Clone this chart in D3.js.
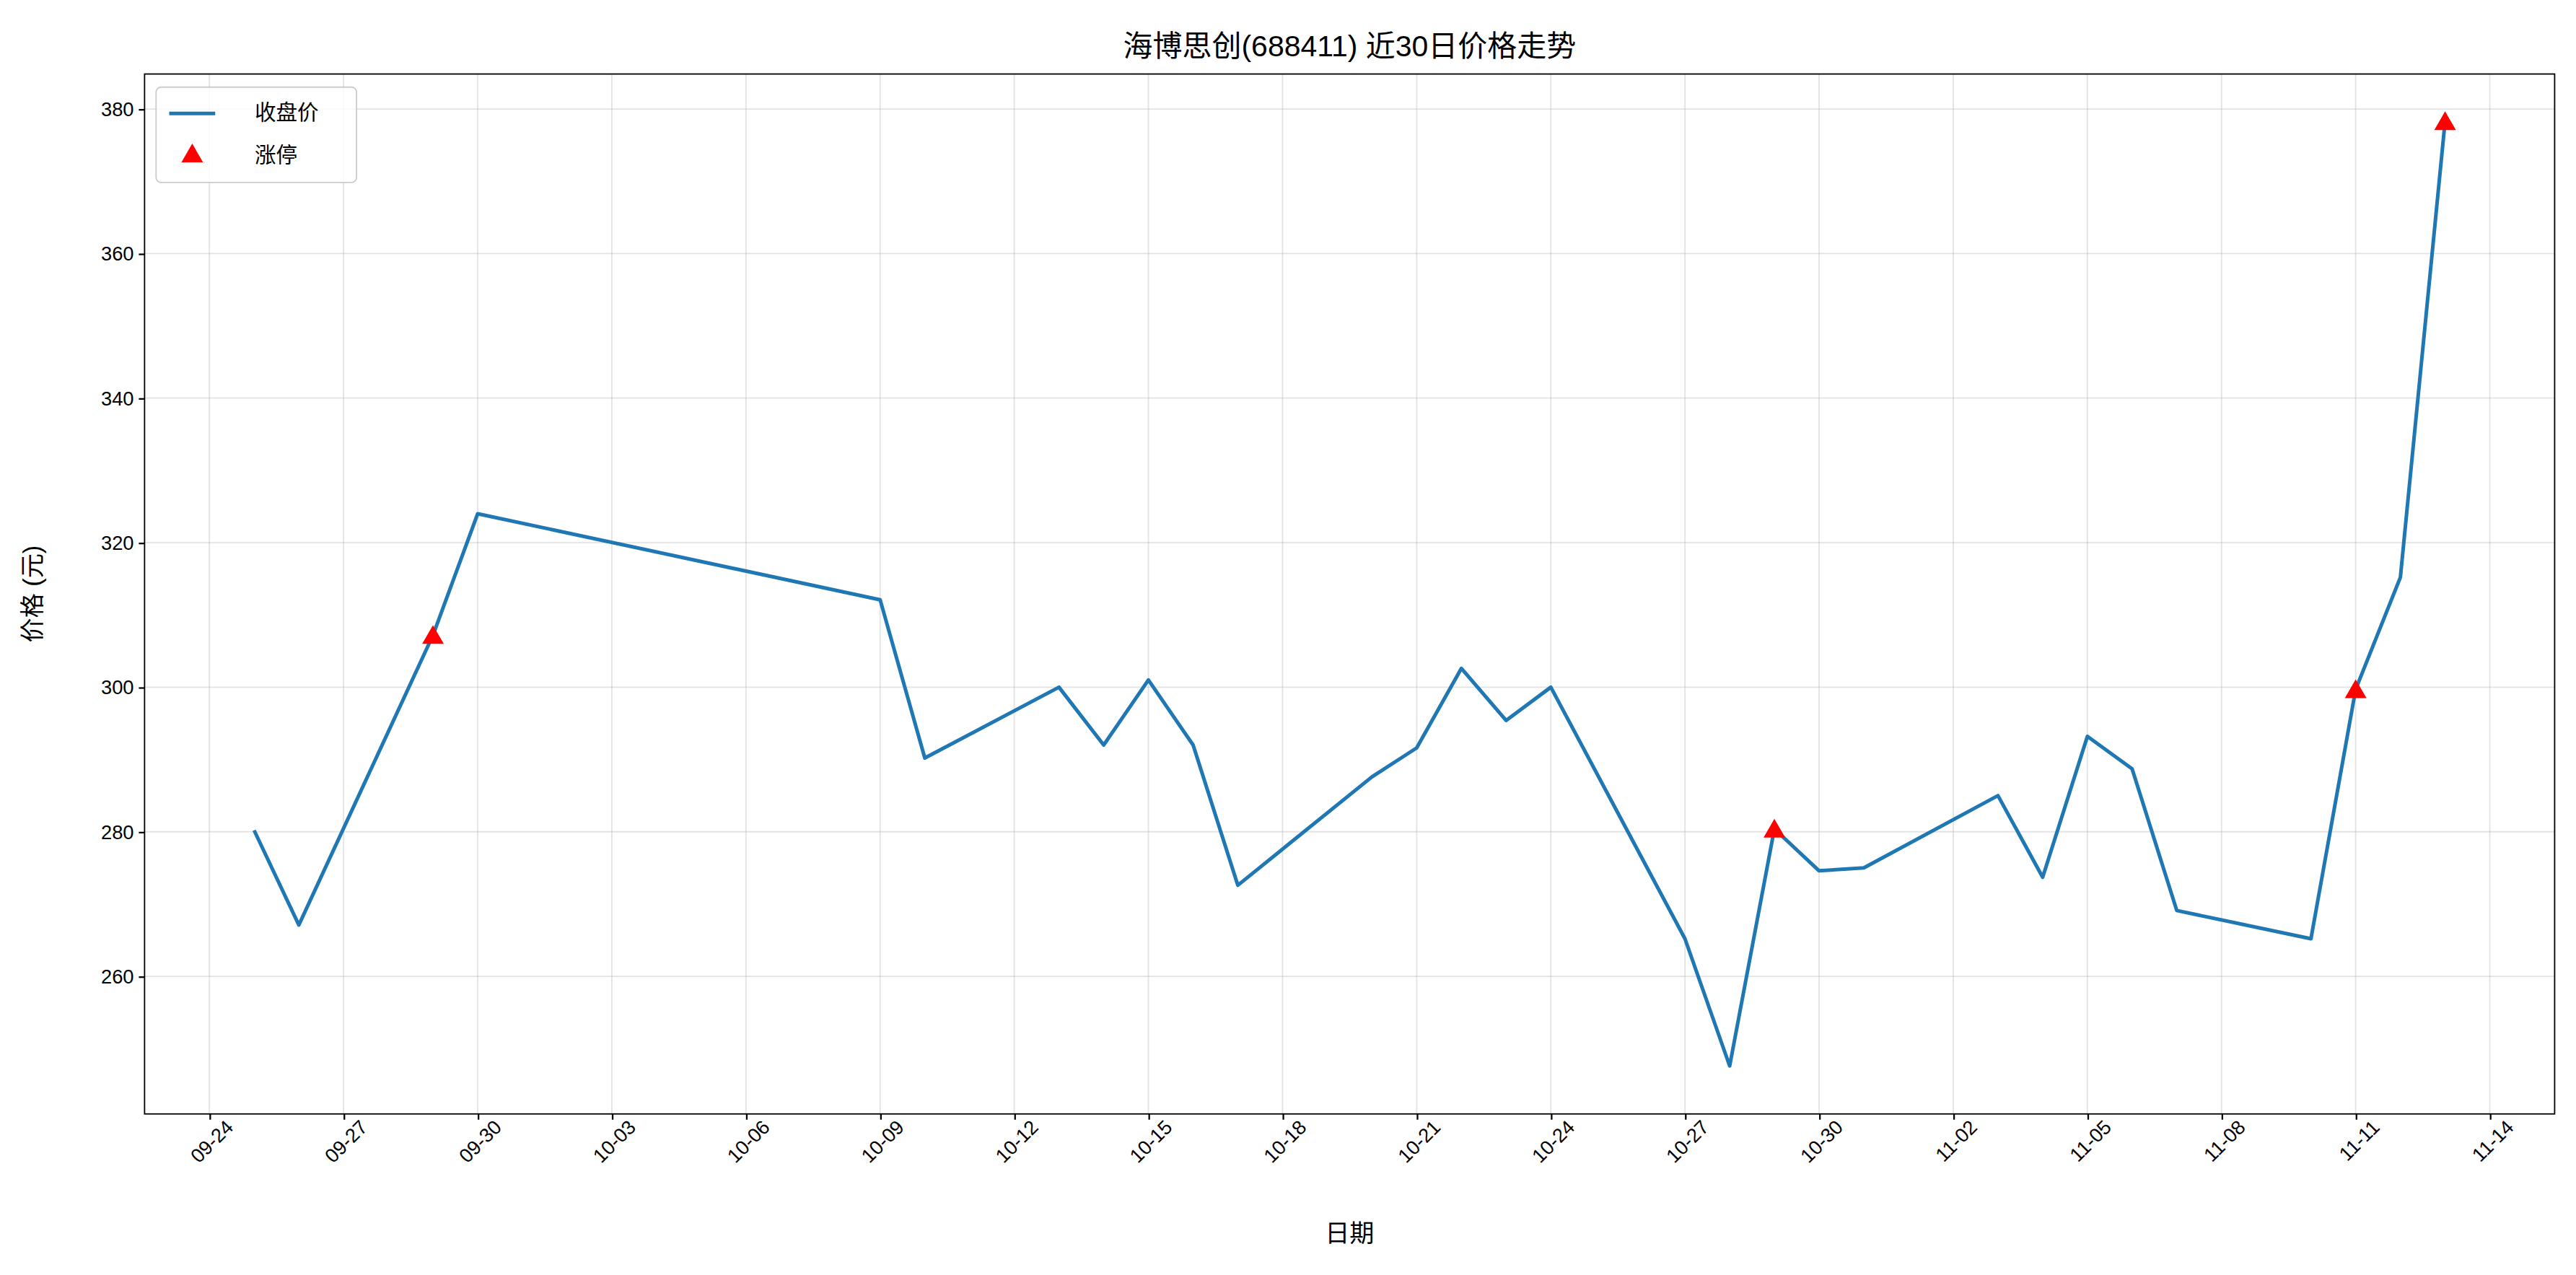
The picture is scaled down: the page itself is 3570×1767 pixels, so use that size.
<!DOCTYPE html>
<html><head><meta charset="utf-8">
<script src="https://cdn.jsdelivr.net/npm/d3@7"></script>
<style>body{margin:0;background:#fff}text{font-family:"Liberation Sans","Noto Sans CJK SC",sans-serif}</style>
</head><body>
<svg id="chart" width="3570" height="1767" viewBox="0 0 1568 776"></svg>
<script>
// closing prices
var dates = ["2025-09-25","2025-09-26","2025-09-29","2025-09-30","2025-10-09","2025-10-10","2025-10-13","2025-10-14","2025-10-15","2025-10-16",
  "2025-10-17","2025-10-20","2025-10-21","2025-10-22","2025-10-23","2025-10-24","2025-10-27","2025-10-28","2025-10-29","2025-10-30",
  "2025-10-31","2025-11-03","2025-11-04","2025-11-05","2025-11-06","2025-11-07","2025-11-10","2025-11-11","2025-11-12","2025-11-13"];
var closes = [280.2,267.1,307.2,324.0,312.1,290.2,300.0,292.0,301.0,292.0,
  272.6,287.6,291.6,302.6,295.4,300.0,265.2,247.6,280.4,274.6,
  275.0,285.0,273.7,293.2,288.7,269.1,265.2,299.7,315.2,378.3];
var limitUp = ["2025-09-29","2025-10-29","2025-11-11","2025-11-13"];
var yTicks = [260,280,300,320,340,360,380];

var parse = d3.timeParse("%Y-%m-%d");
var data = dates.map(function(d,i){ return {date: parse(d), close: closes[i], up: limitUp.indexOf(d) >= 0}; });

var svg = d3.select("#chart");
var L = 88, R = 1555, T = 45, B = 678;
var DAY = 864e5;
var x = d3.scaleTime().domain([new Date(parse("2025-09-25") - 2.45*DAY), new Date(+parse("2025-11-13") + 2.45*DAY)]).range([L, R]);
var y = d3.scaleLinear().domain([240.96, 384.84]).range([B, T]);

var xTicks = d3.timeDay.range(parse("2025-09-24"), parse("2025-11-15"), 3);

// grid
svg.append("g").selectAll("line").data(xTicks).join("line")
  .attr("x1", d => x(d)).attr("x2", d => x(d)).attr("y1", T).attr("y2", B)
  .attr("stroke", "#b0b0b0").attr("stroke-opacity", 0.35).attr("stroke-width", 0.8);
svg.append("g").selectAll("line").data(yTicks).join("line")
  .attr("x1", L).attr("x2", R).attr("y1", d => y(d)).attr("y2", d => y(d))
  .attr("stroke", "#b0b0b0").attr("stroke-opacity", 0.35).attr("stroke-width", 0.8);

// axes
var xa = svg.append("g").attr("transform", "translate(0," + B + ")")
  .call(d3.axisBottom(x).tickValues(xTicks).tickFormat(d3.timeFormat("%m-%d")).tickSizeOuter(0).tickSize(3.5));
xa.selectAll("text").attr("font-size", 12).attr("fill", "#000")
  .attr("text-anchor", "end").attr("dx", "0.35em").attr("dy", "0.85em")
  .attr("transform", "rotate(-45)");
var ya = svg.append("g").attr("transform", "translate(" + L + ",0)")
  .call(d3.axisLeft(y).tickValues(yTicks).tickSizeOuter(0).tickSize(3.5));
ya.selectAll("text").attr("font-size", 12).attr("fill", "#000");
svg.selectAll(".domain").remove();
svg.append("rect").attr("x", L).attr("y", T).attr("width", R - L).attr("height", B - T)
  .attr("fill", "none").attr("stroke", "#000").attr("stroke-width", 0.8);

// line
svg.append("path").datum(data)
  .attr("d", d3.line().x(d => x(d.date)).y(d => y(d.close)))
  .attr("fill", "none").attr("stroke", "#1f77b4").attr("stroke-width", 2.2).attr("stroke-linejoin", "round");

// limit-up markers
var tri = d3.symbol().type(d3.symbolTriangle).size(75);
svg.append("g").selectAll("path").data(data.filter(d => d.up)).join("path")
  .attr("d", tri).attr("transform", d => "translate(" + x(d.date) + "," + (y(d.close) + 1.5) + ")")
  .attr("fill", "red");

// texts
svg.append("text").attr("x", (L + R) / 2).attr("y", 34).attr("text-anchor", "middle")
  .attr("font-size", 18).text("海博思创(688411) 近30日价格走势");
svg.append("text").attr("x", (L + R) / 2).attr("y", 756).attr("text-anchor", "middle")
  .attr("font-size", 15).text("日期");
svg.append("text").attr("transform", "translate(25," + (T + B) / 2 + ") rotate(-90)")
  .attr("text-anchor", "middle").attr("font-size", 15).text("价格 (元)");

// legend
var lg = svg.append("g").attr("transform", "translate(95,53)");
lg.append("rect").attr("width", 122).attr("height", 58).attr("rx", 3)
  .attr("fill", "#fff").attr("fill-opacity", 0.8).attr("stroke", "#ccc").attr("stroke-width", 0.8);
lg.append("line").attr("x1", 8).attr("x2", 36).attr("y1", 16).attr("y2", 16)
  .attr("stroke", "#1f77b4").attr("stroke-width", 2.2);
lg.append("path").attr("d", tri).attr("transform", "translate(22,42)").attr("fill", "red");
lg.append("text").attr("x", 60).attr("y", 20).attr("font-size", 13).text("收盘价");
lg.append("text").attr("x", 60).attr("y", 46).attr("font-size", 13).text("涨停");
</script>
</body></html>
